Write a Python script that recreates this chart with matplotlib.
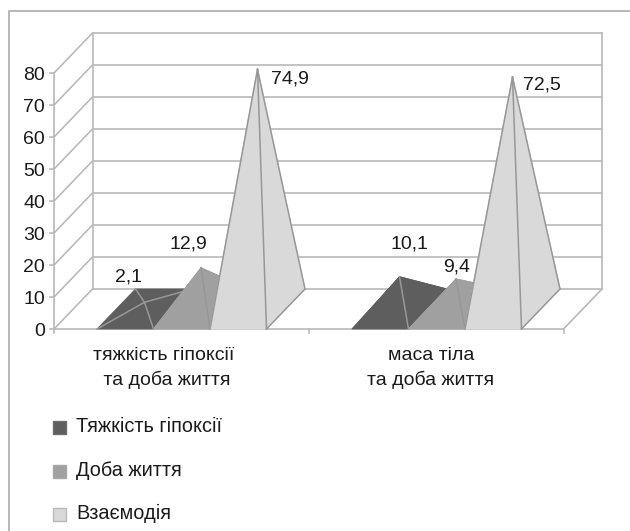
import matplotlib
matplotlib.use("Agg")
import matplotlib.pyplot as plt
from matplotlib.patches import Polygon, Rectangle

plt.rcParams['font.family'] = ['Liberation Sans', 'DejaVu Sans']

# Chart data
categories = ["тяжкість гіпоксії\n та доба життя", "маса тіла\nта доба життя"]
series_names = ["Тяжкість гіпоксії", "Доба життя", "Взаємодія"]
severity = [2.1, 10.1]
day_of_life = [12.9, 9.4]
interaction = [74.9, 72.5]
value_labels = [["2,1", "10,1"], ["12,9", "9,4"], ["74,9", "72,5"]]
y_ticks = [0, 10, 20, 30, 40, 50, 60, 70, 80]

# Oblique projection: x in pixels, y in value units
W, H = 630, 531
PX_PER_UNIT = 3.2
FLOOR_Y = 329
DEPTH_X, DEPTH_UNITS = 38.5, 40 / PX_PER_UNIT
LEFT, RIGHT = 54, 563.5
GROUP_STARTS = [97, 352]
PYR_W = 56.5

GRID = "#b9b9b9"
EDGE = "#979797"
INK = "#1a1a1a"
fills = ["#5e5e5e", "#a0a0a0", "#d9d9d9"]
legend_edges = ["#6e6e6e", "#a8a8a8", "#b9b9b9"]

fig = plt.figure(figsize=(W / 100, H / 100), dpi=100, facecolor="white")
ax = fig.add_axes([0, 0, 1, 1])
ax.set_xlim(0, W)
ax.set_ylim((FLOOR_Y - H) / PX_PER_UNIT, FLOOR_Y / PX_PER_UNIT)
ax.axis("off")


def v_px(px_y):
    """Value-axis coordinate of a pixel row counted from the top."""
    return (FLOOR_Y - px_y) / PX_PER_UNIT


# Outer frame: left and top edges run off the page
ax.plot([9, 9, W], [v_px(H), v_px(11), v_px(11)], color="#ababab", lw=1.2, zorder=1)

# Walls and floor
top = y_ticks[-1]
for v in y_ticks:
    ax.plot([LEFT, LEFT + DEPTH_X, RIGHT + DEPTH_X], [v, v + DEPTH_UNITS, v + DEPTH_UNITS],
            color=GRID, lw=1.2, zorder=2)
    ax.plot([LEFT - 4, LEFT], [v, v], color=GRID, lw=1.2, zorder=2)
    ax.text(45, v - 0.8, str(v), ha="right", va="center", fontsize=14, color=INK)
ax.plot([LEFT, LEFT], [0, top], color=GRID, lw=1.2, zorder=2)
ax.plot([LEFT + DEPTH_X] * 2, [DEPTH_UNITS, top + DEPTH_UNITS], color=GRID, lw=1.2, zorder=2)
ax.plot([RIGHT + DEPTH_X] * 2, [DEPTH_UNITS, top + DEPTH_UNITS], color=GRID, lw=1.2, zorder=2)
ax.plot([LEFT, RIGHT, RIGHT + DEPTH_X], [0, 0, DEPTH_UNITS], color=GRID, lw=1.2, zorder=2)
for x in (LEFT, (LEFT + RIGHT) / 2, RIGHT):
    ax.plot([x, x], [0, -4 / PX_PER_UNIT], color=GRID, lw=1.2, zorder=2)


def pyramid(x0, value, fill, z):
    """Square-based pyramid standing on the floor at front-left corner x0."""
    fl = (x0, 0)
    fr = (x0 + PYR_W, 0)
    br = (x0 + PYR_W + DEPTH_X, DEPTH_UNITS)
    bl = (x0 + DEPTH_X, DEPTH_UNITS)
    apex = (x0 + (PYR_W + DEPTH_X) / 2, DEPTH_UNITS / 2 + value)
    for face in [(fl, bl, apex), (bl, br, apex), (fl, fr, apex), (fr, br, apex)]:
        ax.add_patch(Polygon(face, closed=True, facecolor=fill, edgecolor=fill, lw=0.6, zorder=z))

    def edge(a, b):
        ax.plot([a[0], b[0]], [a[1], b[1]], color=EDGE, lw=1.1, zorder=z + 0.1)

    # The front-right ridge is always in view
    edge(fr, apex)
    if value < DEPTH_UNITS / 2:
        # A very low apex leaves all four ridges showing
        for corner in (fl, bl, br):
            edge(corner, apex)
    elif fill == fills[-1]:
        # The palest series needs its silhouette outlined
        edge(fl, apex)
        edge(br, apex)
        edge(fr, br)


for g, start in enumerate(GROUP_STARTS):
    for s, values in enumerate([severity, day_of_life, interaction]):
        pyramid(start + s * PYR_W, values[g], fills[s], 3 + s)

# Value labels
label_pos = [[(128, 2.1 + 14.3), (409, 10.1 + 16.6)],
             [(188, 12.9 + 13.8), (457, 9.4 + 10.0)],
             [(290, 74.9 + 3.3), (542, 72.5 + 3.7)]]
for s, row in enumerate(value_labels):
    for g, text in enumerate(row):
        x, v = label_pos[s][g]
        ax.text(x, v, text, ha="center", va="center", fontsize=14, color=INK, zorder=10)

# Category labels
for x, text in zip((164, 431), categories):
    ax.text(x, v_px(368), text, ha="center", va="center", fontsize=14, color=INK,
            linespacing=1.42, zorder=10)

# Legend
for name, fill, edge_c, py in zip(series_names, fills, legend_edges, (420.5, 464.5, 507.5)):
    ax.add_patch(Rectangle((53, v_px(py + 13)), 13, 13 / PX_PER_UNIT, facecolor=fill,
                           edgecolor=edge_c, lw=1.0, zorder=5))
    ax.text(76, v_px(py + 5.5), name, ha="left", va="center", fontsize=14.3, color=INK)

fig.savefig("out.png", dpi=100, facecolor="white")
